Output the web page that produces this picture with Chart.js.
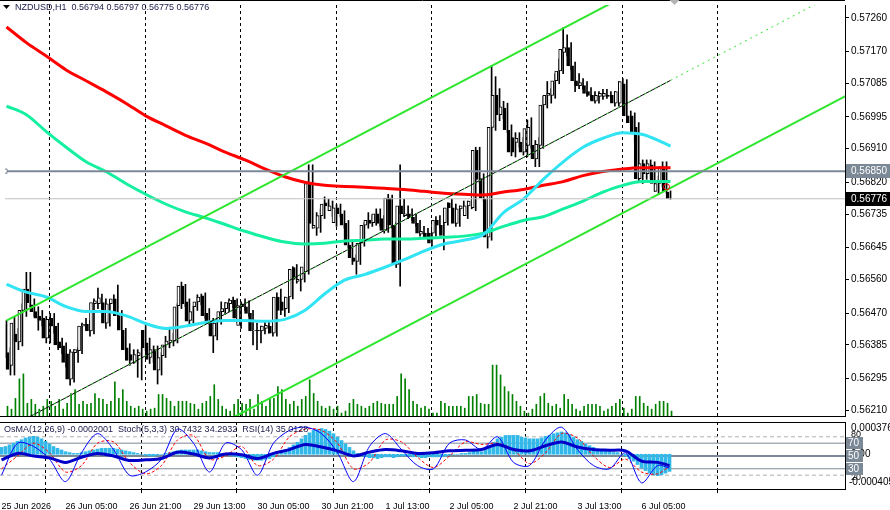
<!DOCTYPE html>
<html>
<head>
<meta charset="utf-8">
<script src="https://cdn.jsdelivr.net/npm/chart.js@4.4.0/dist/chart.umd.min.js"></script>
<style>
  html, body { margin: 0; padding: 0; background: #fff; }
  #wrap { position: relative; width: 890px; height: 510px; overflow: hidden; }
  canvas { position: absolute; left: 0; }
</style>
</head>
<body>
<div id="wrap">
  <canvas id="main" width="890" height="421" style="top:0"></canvas>
  <canvas id="ind" width="890" height="89" style="top:421px"></canvas>
</div>
<script>
// NZDUSD H1, prices in points (1e-5)
const O = [56437,56364,56330,56414,56393,56477,56534,56492,56474,56461,
  56456,56403,56456,56435,56393,56382,56361,56293,56364,56369,
  56435,56440,56422,56495,56495,56498,56443,56495,56508,56463,
  56424,56377,56359,56338,56356,56424,56390,56351,56372,56317,
  56356,56385,56390,56395,56490,56542,56500,56450,56487,56500,
  56516,56469,56448,56408,56448,56474,56482,56495,56505,56437,
  56495,56487,56469,56422,56424,56422,56429,56435,56416,56513,
  56500,56482,56513,56592,56555,56560,56581,56817,56697,56697,
  56731,56765,56744,56712,56752,56736,56710,56652,56618,56608,
  56657,56705,56718,56712,56736,56723,56691,56778,56705,56600,
  56757,56731,56736,56726,56710,56681,56684,56684,56684,56718,
  56705,56712,56765,56752,56710,56749,56731,56757,56752,56906,
  56830,56775,56673,56967,57053,57001,57019,56959,56940,56927,
  56927,56901,56919,56919,56883,56919,57027,57053,57053,57092,
  57118,57168,57181,57132,57092,57079,57079,57063,57053,57037,
  57050,57050,57053,57053,57032,57032,57084,56998,56998,56967,
  56830,56870,56843,56867,56796,56817,56862,56794];
const H = [56450,56377,56461,56429,56495,56579,56579,56508,56487,56477,
  56461,56469,56469,56443,56403,56390,56372,56372,56377,56443,
  56456,56450,56508,56537,56521,56508,56503,56519,56545,56477,
  56429,56388,56372,56372,56377,56437,56403,56382,56382,56364,
  56408,56429,56416,56495,56553,56547,56508,56487,56519,56521,
  56524,56482,56456,56456,56500,56498,56508,56513,56508,56500,
  56508,56503,56477,56443,56435,56450,56445,56450,56524,56534,
  56513,56524,56594,56600,56576,56605,56867,56867,56739,56749,
  56781,56775,56770,56760,56762,56744,56718,56660,56626,56665,
  56712,56739,56733,56749,56749,56731,56788,56786,56712,56867,
  56775,56757,56749,56736,56718,56702,56697,56691,56728,56731,
  56718,56765,56775,56762,56757,56770,56770,56796,56914,56914,
  56843,56783,57132,57103,57071,57037,57032,56974,56953,56953,
  56940,56987,56993,56932,56940,57050,57090,57071,57111,57150,
  57234,57215,57194,57142,57111,57098,57090,57074,57063,57063,
  57069,57069,57063,57063,57090,57098,57095,57011,57006,56980,
  56880,56880,56880,56875,56836,56875,56875,56797];
const L = [56351,56304,56304,56372,56382,56461,56487,56461,56424,56435,
  56390,56390,56416,56372,56361,56325,56277,56285,56338,56361,
  56424,56408,56414,56482,56482,56429,56435,56482,56456,56416,
  56361,56330,56335,56298,56291,56369,56335,56338,56280,56304,
  56351,56377,56382,56390,56482,56487,56440,56443,56477,56492,
  56456,56440,56364,56398,56440,56466,56474,56484,56445,56429,
  56477,56461,56385,56372,56390,56414,56416,56408,56408,56466,
  56461,56471,56508,56550,56529,56553,56574,56697,56678,56686,
  56723,56744,56728,56702,56728,56697,56644,56600,56574,56600,
  56649,56697,56702,56705,56702,56684,56686,56697,56592,56542,
  56728,56723,56718,56702,56676,56673,56665,56649,56676,56697,
  56639,56705,56739,56702,56702,56741,56723,56749,56744,56817,
  56770,56644,56665,56959,56985,56990,56953,56891,56888,56914,
  56893,56888,56911,56862,56862,56911,57019,57032,57045,57084,
  57111,57158,57121,57063,57071,57069,57050,57042,57032,57032,
  57042,57045,57042,57024,57024,57001,56990,56967,56927,56822,
  56817,56828,56828,56796,56788,56809,56791,56775];
const C = [56369,56319,56443,56393,56477,56534,56498,56474,56456,56450,
  56403,56453,56435,56385,56377,56338,56293,56366,56372,56435,
  56440,56422,56498,56503,56511,56443,56495,56508,56463,56424,
  56372,56343,56343,56359,56364,56377,56346,56372,56317,56351,
  56385,56395,56398,56487,56542,56495,56448,56474,56500,56513,
  56463,56448,56408,56443,56474,56482,56498,56505,56456,56490,
  56487,56469,56422,56424,56422,56435,56437,56416,56513,56477,
  56477,56513,56587,56560,56560,56594,56817,56710,56705,56731,
  56762,56757,56757,56752,56736,56705,56652,56618,56608,56657,
  56705,56718,56710,56736,56710,56691,56778,56705,56600,56757,
  56736,56736,56728,56710,56684,56689,56673,56657,56718,56705,
  56678,56752,56752,56710,56749,56757,56757,56770,56906,56828,
  56778,56673,56967,57053,57001,57022,56961,56901,56901,56938,
  56901,56964,56967,56883,56922,57027,57053,57058,57092,57118,
  57176,57181,57132,57092,57079,57087,57058,57053,57037,57053,
  57058,57058,57050,57032,57063,57090,56998,56980,56953,56830,
  56870,56843,56870,56817,56817,56862,56796,56776];
const VOL = [300,210,540,1140,1290,390,510,360,210,300,510,450,300,510,210,390,690,810,360,450,
  360,390,690,540,510,360,450,1050,540,810,450,300,240,300,210,150,210,240,660,660,
  540,450,300,450,450,450,390,360,210,390,450,600,960,510,300,210,150,360,510,390,
  360,510,210,660,450,300,510,540,900,810,510,360,450,300,510,600,1110,690,450,300,
  240,300,210,300,90,150,390,510,360,300,240,300,390,450,390,360,360,360,600,1290,
  1140,810,450,360,240,300,210,90,90,450,390,300,300,300,300,240,600,600,660,390,
  360,360,1560,1560,1260,900,750,660,450,300,150,90,210,360,600,690,390,300,360,240,
  660,510,360,210,150,300,360,360,360,300,150,210,300,390,510,240,90,210,600,600,
  390,300,210,360,450,450,390,150];

// moving averages, read every 5 bars
const maBars = [0,5,10,15,20,25,30,35,40,45,50,55,60,65,70,75,80,85,90,95,100,
  105,110,115,120,125,130,135,140,145,150,155,160,165,167];
const maRed = [57236,57194,57158,57121,57092,57063,57032,56998,56972,56946,56925,56901,56880,56856,
  56835,56820,56812,56809,56807,56804,56801,56796,56791,56788,56786,56794,56801,56812,56822,
  56838,56849,56856,56859,56859,56859];
const maSpring = [57024,57001,56956,56914,56875,56849,56817,56788,56762,56741,56725,56707,56689,56673,
  56660,56655,56657,56663,56665,56668,56668,56670,56673,56676,56684,56702,56718,56728,56749,
  56770,56794,56812,56822,56822,56822];
const maCyan = [56547,56526,56513,56487,56474,56474,56463,56442,56429,56435,56445,56450,56450,56448,
  56453,56477,56521,56558,56573,56592,56613,56636,56655,56665,56681,56739,56775,56828,56875,
  56914,56938,56953,56948,56927,56917];

// channel
const chanBars = [0, 211];
const chanUpper = [56450, 57629];
const chanLower = [55872, 57051];
const chanMidBars = [0, 167, 211];
const chanMid = [56160, 57093, 57339];

const hLine = 0.56850;
const bidLine = 0.56776;
const priceTicks = [0.57260,0.57170,0.57085,0.56995,0.56910,0.56820,0.56735,0.56645,
  0.56560,0.56470,0.56385,0.56295,0.56210];
const timeBars = [0,16,32,48,64,80,96,112,128,144,160];
const timeLabels = ['25 Jun 2026','26 Jun 05:00','26 Jun 21:00','29 Jun 13:00','30 Jun 05:00',
  '30 Jun 21:00','1 Jul 13:00','2 Jul 05:00','2 Jul 21:00','3 Jul 13:00','6 Jul 05:00'];

// oscillators, read every 4 bars
const oscBars = [0,4,8,12,16,20,24,28,32,36,40,44,48,52,56,60,64,68,72,76,80,84,88,92,96,100,
  104,108,112,116,120,124,128,132,136,140,144,148,152,156,160,164,167];
const rsi = [44,54,50,47,40,48,54,50,43,44,46,56,53,47,53,52,46,54,60,68,64,58,50,56,60,58,
  54,55,58,59,60,68,60,58,66,72,64,60,59,58,42,40,35];
const stochMain = [20,70,65,45,10,55,85,60,20,25,45,92,70,25,70,60,20,70,90,95,85,55,10,65,85,60,
  35,30,70,75,60,80,40,35,75,95,60,35,30,55,8,35,31];
const stochSig = [30,50,70,55,25,35,70,72,40,22,35,75,82,45,50,65,35,45,80,92,90,70,30,40,75,72,
  48,32,50,72,68,70,60,38,55,85,78,50,32,45,25,22,34];
// OsMA per bar (x1e-5)
const osma = [8,9,11,13,15,17,19,20,21,20, 18,15,12,9,7,5,3,2,1,1,
  2,3,4,5,6,7,7,7,7,6, 5,4,3,2,1,0,-1,-2,-2,-1,
  0,1,2,3,4,5,5,5,5,5, 4,3,2,2,2,1,1,-1,-2,-3,
  -4,-5,-6,-7,-7,-7,-6,-5,-3,0, 2,5,8,11,14,18,22,25,28,29,
  30,29,27,24,20,16,12,8,4,1, -2,-3,-4,-4,-5,-4,-3,-3,-4,-3,
  -2,-2,-2,-3,-3,-4,-4,-3,-3,-3, -3,-2,-1,0,0,1,1,2,4,4,
  3,6,10,14,18,20,22,22,22,22, 20,19,18,18,18,19,21,22,24,25,
  26,25,23,20,17,15,12,10,8,6, 5,4,3,2,2,0,-2,-5,-8,-12,
  -16,-19,-22,-24,-25,-24,-22,-20];

const FONT = '"Liberation Sans", Arial, sans-serif';
// 4 px per bar, bar centres on half pixels so 1px and 3px marks stay crisp
const X_MIN = -0.375, X_MAX = 210.875;
const gridBars = [];
for (let b = 10.75; b < 180; b += 24) gridBars.push(b);

function fixAxis(w) {
  return function (s) { if (w) s.width = w; s.paddingTop = 0; s.paddingBottom = 0; s.paddingLeft = 0; s.paddingRight = 0; };
}

function dashedGrid(chart) {
  const ctx = chart.ctx, a = chart.chartArea, xs = chart.scales.x;
  ctx.save();
  ctx.strokeStyle = '#000';
  ctx.lineWidth = 1;
  ctx.setLineDash([3, 3]);
  gridBars.forEach(b => {
    const x = Math.round(xs.getPixelForValue(b)) + 0.5;
    ctx.beginPath(); ctx.moveTo(x, a.top); ctx.lineTo(x, a.bottom); ctx.stroke();
  });
  ctx.restore();
}

function boxLabel(ctx, text, y, bg, w) {
  ctx.fillStyle = bg;
  ctx.fillRect(846, Math.round(y) - 7, w, 14);
  ctx.fillStyle = '#fff';
  ctx.textBaseline = 'middle';
  ctx.fillText(text, 851, Math.round(y));
}

const idx = C.map((_, i) => i);
const pts = v => v / 1e5;

const mainPlugin = {
  id: 'mainDeco',
  beforeDatasetsDraw(chart) { dashedGrid(chart); },
  afterDraw(chart) {
    const ctx = chart.ctx, a = chart.chartArea, ys = chart.scales.y, xs = chart.scales.x;
    ctx.save();
    ctx.strokeStyle = '#000'; ctx.lineWidth = 1;
    ctx.beginPath(); ctx.moveTo(0, 0.5); ctx.lineTo(a.right, 0.5);
    ctx.moveTo(0, a.bottom + 0.5); ctx.lineTo(a.right, a.bottom + 0.5); ctx.stroke();
    // header
    ctx.fillStyle = '#000';
    ctx.beginPath(); ctx.moveTo(3, 5); ctx.lineTo(10, 5); ctx.lineTo(6.5, 9); ctx.closePath(); ctx.fill();
    ctx.font = '9px ' + FONT;
    ctx.fillStyle = '#1a1a4a';
    ctx.textBaseline = 'middle';
    ctx.fillText('NZDUSD,H1  0.56794 0.56797 0.56775 0.56776', 15, 8);
    // shift marker
    ctx.fillStyle = '#b4b4b4';
    const sx = xs.getPixelForValue(168);
    ctx.beginPath(); ctx.moveTo(sx - 5, 0); ctx.lineTo(sx + 5, 0); ctx.lineTo(sx, 5); ctx.closePath(); ctx.fill();
    // marker near last bar
    ctx.strokeStyle = '#ff0000';
    ctx.beginPath(); ctx.arc(xs.getPixelForValue(166), ys.getPixelForValue(0.56808), 3, 0, Math.PI * 2); ctx.stroke();
    // price labels
    ctx.font = '10px ' + FONT;
    boxLabel(ctx, hLine.toFixed(5), ys.getPixelForValue(hLine), '#7b8896', 44);
    boxLabel(ctx, bidLine.toFixed(5), ys.getPixelForValue(bidLine), '#000', 44);
    ctx.restore();
  }
};

new Chart(document.getElementById('main'), {
  data: {
    datasets: [
      { type: 'bar', yAxisID: 'yv', order: 20, data: idx.map(i => ({ x: i, y: VOL[i] })),
        backgroundColor: '#008000', barThickness: 1 },
      { type: 'bar', order: 15, data: idx.map(i => ({ x: i, y: [pts(L[i]), pts(H[i])] })),
        backgroundColor: '#000', barThickness: 1 },
      { type: 'bar', order: 14, data: idx.map(i => ({ x: i, y: [pts(O[i]), pts(C[i])] })),
        backgroundColor: idx.map(i => C[i] >= O[i] ? '#fff' : '#000'),
        borderColor: '#000', borderWidth: 1, borderSkipped: false, barThickness: 3 },
      { type: 'line', order: 8, data: maBars.map((b, k) => ({ x: b, y: pts(maSpring[k]) })),
        borderColor: '#14f0a0', borderWidth: 3, pointRadius: 0, cubicInterpolationMode: 'monotone' },
      { type: 'line', order: 7, data: maBars.map((b, k) => ({ x: b, y: pts(maRed[k]) })),
        borderColor: '#ff0000', borderWidth: 3, pointRadius: 0, cubicInterpolationMode: 'monotone' },
      { type: 'line', order: 6, data: maBars.map((b, k) => ({ x: b, y: pts(maCyan[k]) })),
        borderColor: '#30e4f4', borderWidth: 3, pointRadius: 0, cubicInterpolationMode: 'monotone' },
      { type: 'line', order: 5, data: chanBars.map((b, k) => ({ x: b, y: pts(chanUpper[k]) })),
        borderColor: '#2ee62e', borderWidth: 2, pointRadius: 0 },
      { type: 'line', order: 5, data: chanBars.map((b, k) => ({ x: b, y: pts(chanLower[k]) })),
        borderColor: '#2ee62e', borderWidth: 2, pointRadius: 0 },
      { type: 'line', order: 5, data: chanMidBars.slice(0, 2).map((b, k) => ({ x: b, y: pts(chanMid[k]) })),
        borderColor: '#000', borderWidth: 1, pointRadius: 0 },
      { type: 'line', order: 4, data: chanMidBars.map((b, k) => ({ x: b, y: pts(chanMid[k]) })),
        borderColor: '#2ee62e', borderWidth: 1, borderDash: [2, 4], pointRadius: 0 },
      { type: 'line', order: 3, data: [{ x: X_MIN, y: hLine }, { x: X_MAX, y: hLine }],
        borderColor: '#7b8896', borderWidth: 2, pointRadius: [3, 0], pointStyle: 'rect',
        pointBackgroundColor: '#fff', pointBorderColor: '#7b8896', pointBorderWidth: 1 },
      { type: 'line', order: 3, data: [{ x: X_MIN, y: bidLine }, { x: X_MAX, y: bidLine }],
        borderColor: '#c0c0c0', borderWidth: 1, pointRadius: 0 }
    ]
  },
  options: {
    responsive: false, animation: false, events: [],
    layout: { padding: { top: 0, bottom: 1, left: 0, right: 0 } },
    plugins: { legend: { display: false }, tooltip: { enabled: false } },
    scales: {
      x: { type: 'linear', min: X_MIN, max: X_MAX, offset: false, display: false },
      y: { position: 'right', min: 0.561944, max: 0.572948,
        afterFit: fixAxis(45),
        afterBuildTicks(s) { s.ticks = priceTicks.map(v => ({ value: v })); },
        ticks: { autoSkip: false, color: '#000', padding: 2, font: { family: FONT, size: 10 },
          callback: v => v.toFixed(5) },
        grid: { drawOnChartArea: false, color: '#000', tickLength: 4 },
        border: { color: '#000' } },
      yv: { display: false, min: 0, max: 12600 }
    }
  },
  plugins: [mainPlugin]
});

const indPlugin = {
  id: 'indDeco',
  beforeDatasetsDraw(chart) { dashedGrid(chart); },
  afterDraw(chart) {
    const ctx = chart.ctx, a = chart.chartArea, yo = chart.scales.yo, ym = chart.scales.ym, xs = chart.scales.x;
    ctx.save();
    ctx.strokeStyle = '#000'; ctx.lineWidth = 1;
    ctx.beginPath(); ctx.moveTo(0, a.top + 0.5); ctx.lineTo(a.right, a.top + 0.5);
    ctx.moveTo(0, a.bottom + 0.5); ctx.lineTo(a.right, a.bottom + 0.5); ctx.stroke();
    ctx.beginPath();
    gridBars.forEach(b => {
      const x = Math.round(xs.getPixelForValue(b)) + 0.5;
      ctx.moveTo(x, a.bottom); ctx.lineTo(x, a.bottom + 4);
    });
    ctx.stroke();
    ctx.font = '9px ' + FONT;
    ctx.fillStyle = '#1a1a4a';
    ctx.textBaseline = 'middle';
    ctx.fillText('OsMA(12,26,9) -0.0002001  Stoch(5,3,3) 30.7432 34.2932  RSI(14) 35.0128', 4, a.top + 8);
    ctx.font = '10px ' + FONT;
    ctx.fillStyle = '#000';
    ctx.fillText('0.0003762', 851, a.top + 6);
    ctx.fillText('-0.000405', 849, a.bottom - 7);
    ctx.fillText('0.00', 851, ym.getPixelForValue(0));
    ctx.font = '9px ' + FONT;
    ctx.fillText('80', 851, yo.getPixelForValue(80) - 2);
    ctx.fillText('20', 851, yo.getPixelForValue(20) + 2);
    ctx.font = '10px ' + FONT;
    [70, 50, 30].forEach(v => {
      const y = Math.round(yo.getPixelForValue(v));
      ctx.fillStyle = '#7b8896';
      ctx.fillRect(846, y - 6, 17, 12);
      ctx.fillStyle = '#fff';
      ctx.fillText(String(v), 848, y);
    });
    ctx.restore();
  }
};

const levels = [80, 70, 50, 30, 20];
new Chart(document.getElementById('ind'), {
  data: {
    datasets: [
      ...levels.map(v => ({ type: 'line', yAxisID: 'yo', order: 20,
        data: [{ x: X_MIN, y: v }, { x: X_MAX, y: v }],
        borderColor: (v === 80 || v === 20) ? '#b0b0b0' : '#7b8896',
        borderWidth: v === 50 ? 2 : 1, borderDash: (v === 80 || v === 20) ? [4, 3] : [],
        pointRadius: 0 })),
      { type: 'bar', yAxisID: 'ym', order: 10,
        data: osma.map((v, i) => ({ x: i, y: v / 1e5 })),
        backgroundColor: '#33b8ea', barThickness: 3 },
      { type: 'line', yAxisID: 'yo', order: 6, data: oscBars.map((b, k) => ({ x: b, y: stochSig[k] })),
        borderColor: '#ff0000', borderWidth: 1, borderDash: [3, 2], pointRadius: 0, tension: 0.3 },
      { type: 'line', yAxisID: 'yo', order: 5, data: oscBars.map((b, k) => ({ x: b, y: stochMain[k] })),
        borderColor: '#0000ff', borderWidth: 1, pointRadius: 0, tension: 0.3 },
      { type: 'line', yAxisID: 'yo', order: 4, data: oscBars.map((b, k) => ({ x: b, y: rsi[k] })),
        borderColor: '#0000c8', borderWidth: 3, pointRadius: 0, tension: 0.3 }
    ]
  },
  options: {
    responsive: false, animation: false, events: [],
    layout: { padding: { top: 1, bottom: 0, left: 0, right: 0 } },
    plugins: { legend: { display: false }, tooltip: { enabled: false } },
    scales: {
      x: { type: 'linear', min: X_MIN, max: X_MAX, offset: false,
        afterFit(s) { s.height = 21; s.paddingLeft = 0; s.paddingRight = 0; },
        afterBuildTicks(s) { s.ticks = timeBars.map(v => ({ value: v })); },
        ticks: { autoSkip: false, maxRotation: 0, align: 'start', padding: 4, color: '#000',
          font: { family: FONT, size: 9 },
          callback: v => timeLabels[timeBars.indexOf(v)] },
        grid: { display: false, offset: false }, border: { display: false } },
      yo: { position: 'right', min: -1.6, max: 103.1, afterFit: fixAxis(45),
        ticks: { display: false }, grid: { display: false }, border: { color: '#000' } },
      ym: { display: false, min: -0.000405, max: 0.0003762 }
    }
  },
  plugins: [indPlugin]
});
</script>
</body>
</html>
